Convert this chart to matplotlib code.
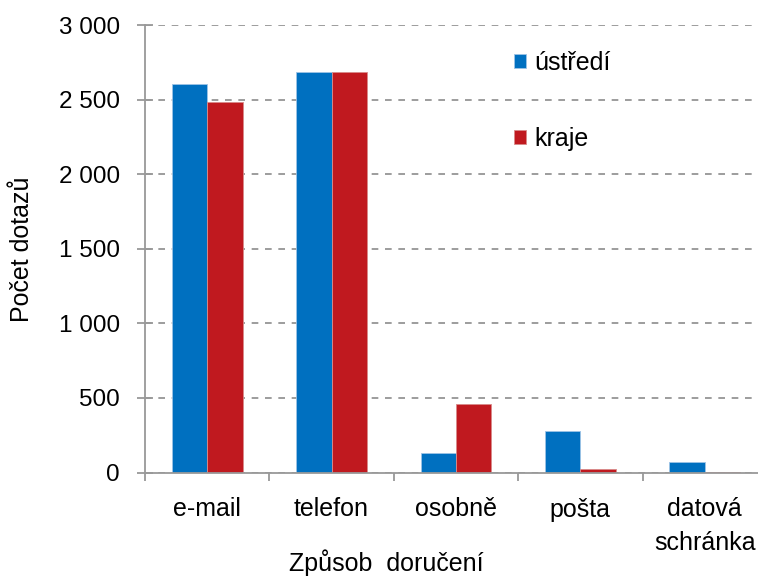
import numpy as np
import matplotlib.pyplot as plt
from matplotlib.ticker import FuncFormatter

plt.rcParams['font.family'] = ['Liberation Sans', 'DejaVu Sans']

# data
categories = ["e-mail", "telefon", "osobně", "pošta", "datová\nschránka"]
ustredi = [2605, 2685, 128, 275, 72]
kraje = [2485, 2685, 462, 22, 5]
series_names = ["ústředí", "kraje"]

blue = "#0070C0"
red = "#C0191F"
grey = "#999999"

fig = plt.figure(figsize=(7.58, 5.81), dpi=100)
ax = fig.add_axes([145 / 758, 1 - 472.5 / 581, 622 / 758, 447.5 / 581])

x = np.arange(len(categories)) + 0.5
w = 0.285
ax.bar(x - w / 2, ustredi, w, color=blue, edgecolor="#9DC3E6", linewidth=0.6, label=series_names[0], zorder=3)
ax.bar(x + w / 2, kraje, w, color=red, edgecolor="#D98A8A", linewidth=0.6, label=series_names[1], zorder=3)

ax.set_xlim(0, len(categories))
ax.set_ylim(0, 3000)
ax.set_yticks(np.arange(0, 3001, 500))
ax.yaxis.set_major_formatter(FuncFormatter(lambda v, p: f"{int(v):,}".replace(",", " ")))
ax.set_xticks(np.arange(0, len(categories) + 1))
ax.set_xticklabels([])
ax.set_xticks(x, minor=True)
ax.set_xticklabels(categories, minor=True, fontsize=18)
ax.tick_params(axis="x", which="minor", length=0, pad=18)
ax.tick_params(axis="x", which="major", direction="out", length=6, color=grey, width=1.3)
ax.tick_params(axis="y", direction="inout", length=12, color=grey, width=1.3, labelsize=17.5, pad=12)
for lbl in ax.get_xticklabels(minor=True):
    lbl.set_linespacing(1.5)

ax.grid(axis="y", linestyle=(0, (4, 4)), color="#8c8c8c", linewidth=1.2, zorder=0)
for s in ["top", "right"]:
    ax.spines[s].set_visible(False)
for s in ["left", "bottom"]:
    ax.spines[s].set_color(grey)
    ax.spines[s].set_linewidth(1.3)
    ax.spines[s].set_zorder(4)

ax.set_ylabel("Počet dotazů", fontsize=18, labelpad=18)
fig.text(386 / 758, 1 - 571 / 581, "Způsob  doručení", ha="center", va="baseline", fontsize=18)

ax.legend(loc="upper left", bbox_to_anchor=(0.557, 0.993), frameon=False, fontsize=18,
          handlelength=0.5, handleheight=0.5, handletextpad=0.3, labelspacing=2.1)

fig.savefig("out.png", dpi=100)
